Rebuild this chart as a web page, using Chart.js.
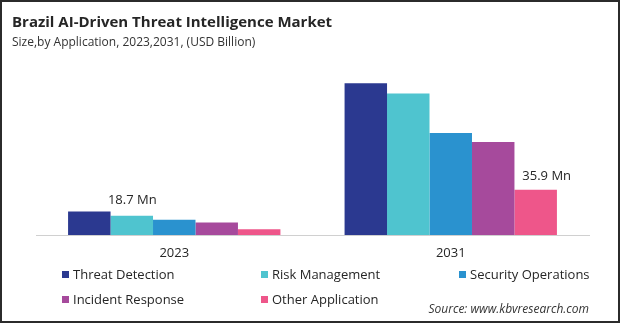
<!DOCTYPE html>
<html>
<head>
<meta charset="utf-8">
<script src="https://cdn.jsdelivr.net/npm/chart.js@4.4.1/dist/chart.umd.min.js"></script>
<style>
  html, body { margin: 0; padding: 0; background: #fff; }
  #frame {
    position: relative; width: 620px; height: 323px; box-sizing: border-box;
    border: 2px solid #2b2b2b; overflow: hidden; font-family: "Open Sans", sans-serif; color: #262626;
  }
  #chart { position: absolute; left: -2px; top: -2px; }
  .title { position: absolute; left: 10px; top: 9px; font-size: 15px; font-weight: bold; color: #262626; white-space: nowrap; }
  .subtitle { position: absolute; left: 10px; top: 31px; font-size: 12px; color: #333; white-space: nowrap; }
  .legend-item { position: absolute; font-size: 13px; color: #262626; white-space: nowrap; line-height: 16px; }
  .legend-item i { display: inline-block; width: 7px; height: 7px; margin-right: 4px; vertical-align: 1px; }
  .source { position: absolute; right: 29px; top: 298px; font-size: 12px; font-style: italic; color: #333; white-space: nowrap; }
</style>
</head>
<body>
<div id="frame">
  <canvas id="chart" width="620" height="323"></canvas>
  <div class="title">Brazil AI-Driven Threat Intelligence Market</div>
  <div class="subtitle">Size,by Application, 2023,2031, (USD Billion)</div>
  <div id="legend"></div>
  <div class="source">Source: www.kbvresearch.com</div>
</div>
<script>
// Market size by application, USD Billion
const years = ["2023", "2031"];
const seriesNames = ["Threat Detection", "Risk Management", "Security Operations", "Incident Response", "Other Application"];
const threatDetection = [18.7, 120.2];
const riskManagement = [15.3, 112.2];
const securityOperations = [12.0, 80.9];
const incidentResponse = [9.9, 73.7];
const otherApplication = [4.5, 35.9];
const colors = ["#2b3990", "#4fc4cf", "#2a92cf", "#a64a9c", "#ee568a"];

const seriesValues = [threatDetection, riskManagement, securityOperations, incidentResponse, otherApplication];

// Value callouts: [dataset index, category index, dx, dy] relative to the bar top
const callouts = [[0, 0, 43, 11], [4, 1, 11, 13]];

const calloutPlugin = {
  id: "callouts",
  afterDatasetsDraw(chart) {
    const ctx = chart.ctx;
    ctx.save();
    ctx.font = "13px 'Open Sans', sans-serif";
    ctx.fillStyle = "#262626";
    ctx.textAlign = "center";
    ctx.textBaseline = "middle";
    callouts.forEach(([ds, idx, dx, dy]) => {
      const bar = chart.getDatasetMeta(ds).data[idx];
      const v = chart.data.datasets[ds].data[idx];
      ctx.fillText(v.toFixed(1) + " Mn", bar.x + dx, bar.y - dy);
    });
    ctx.restore();
  }
};

new Chart(document.getElementById("chart"), {
  type: "bar",
  data: {
    labels: years,
    datasets: seriesNames.map((name, i) => ({
      label: name,
      data: seriesValues[i],
      backgroundColor: colors[i],
      borderWidth: 0
    }))
  },
  options: {
    responsive: false,
    animation: false,
    layout: { padding: { left: 36, right: 31, top: 71, bottom: 58 } },
    datasets: { bar: { categoryPercentage: 0.768, barPercentage: 1.0 } },
    plugins: { legend: { display: false }, title: { display: false }, tooltip: { enabled: false } },
    scales: {
      x: {
        grid: { display: false, drawTicks: false },
        border: { display: true, color: "#d0d0d0", width: 1 },
        ticks: { color: "#262626", font: { family: "'Open Sans', sans-serif", size: 13 }, padding: 10 },
        afterFit(scale) { scale.height = 30; }
      },
      y: { display: false, min: 0, max: 130 }
    }
  },
  plugins: [calloutPlugin]
});

// Legend in three columns
const legendPos = [[60, 264], [259, 264], [457, 264], [60, 289], [259, 289]];
const legendEl = document.getElementById("legend");
seriesNames.forEach((name, i) => {
  const d = document.createElement("div");
  d.className = "legend-item";
  d.style.left = legendPos[i][0] + "px";
  d.style.top = legendPos[i][1] + "px";
  d.innerHTML = '<i style="background:' + colors[i] + '"></i>' + name;
  legendEl.appendChild(d);
});
</script>
</body>
</html>
